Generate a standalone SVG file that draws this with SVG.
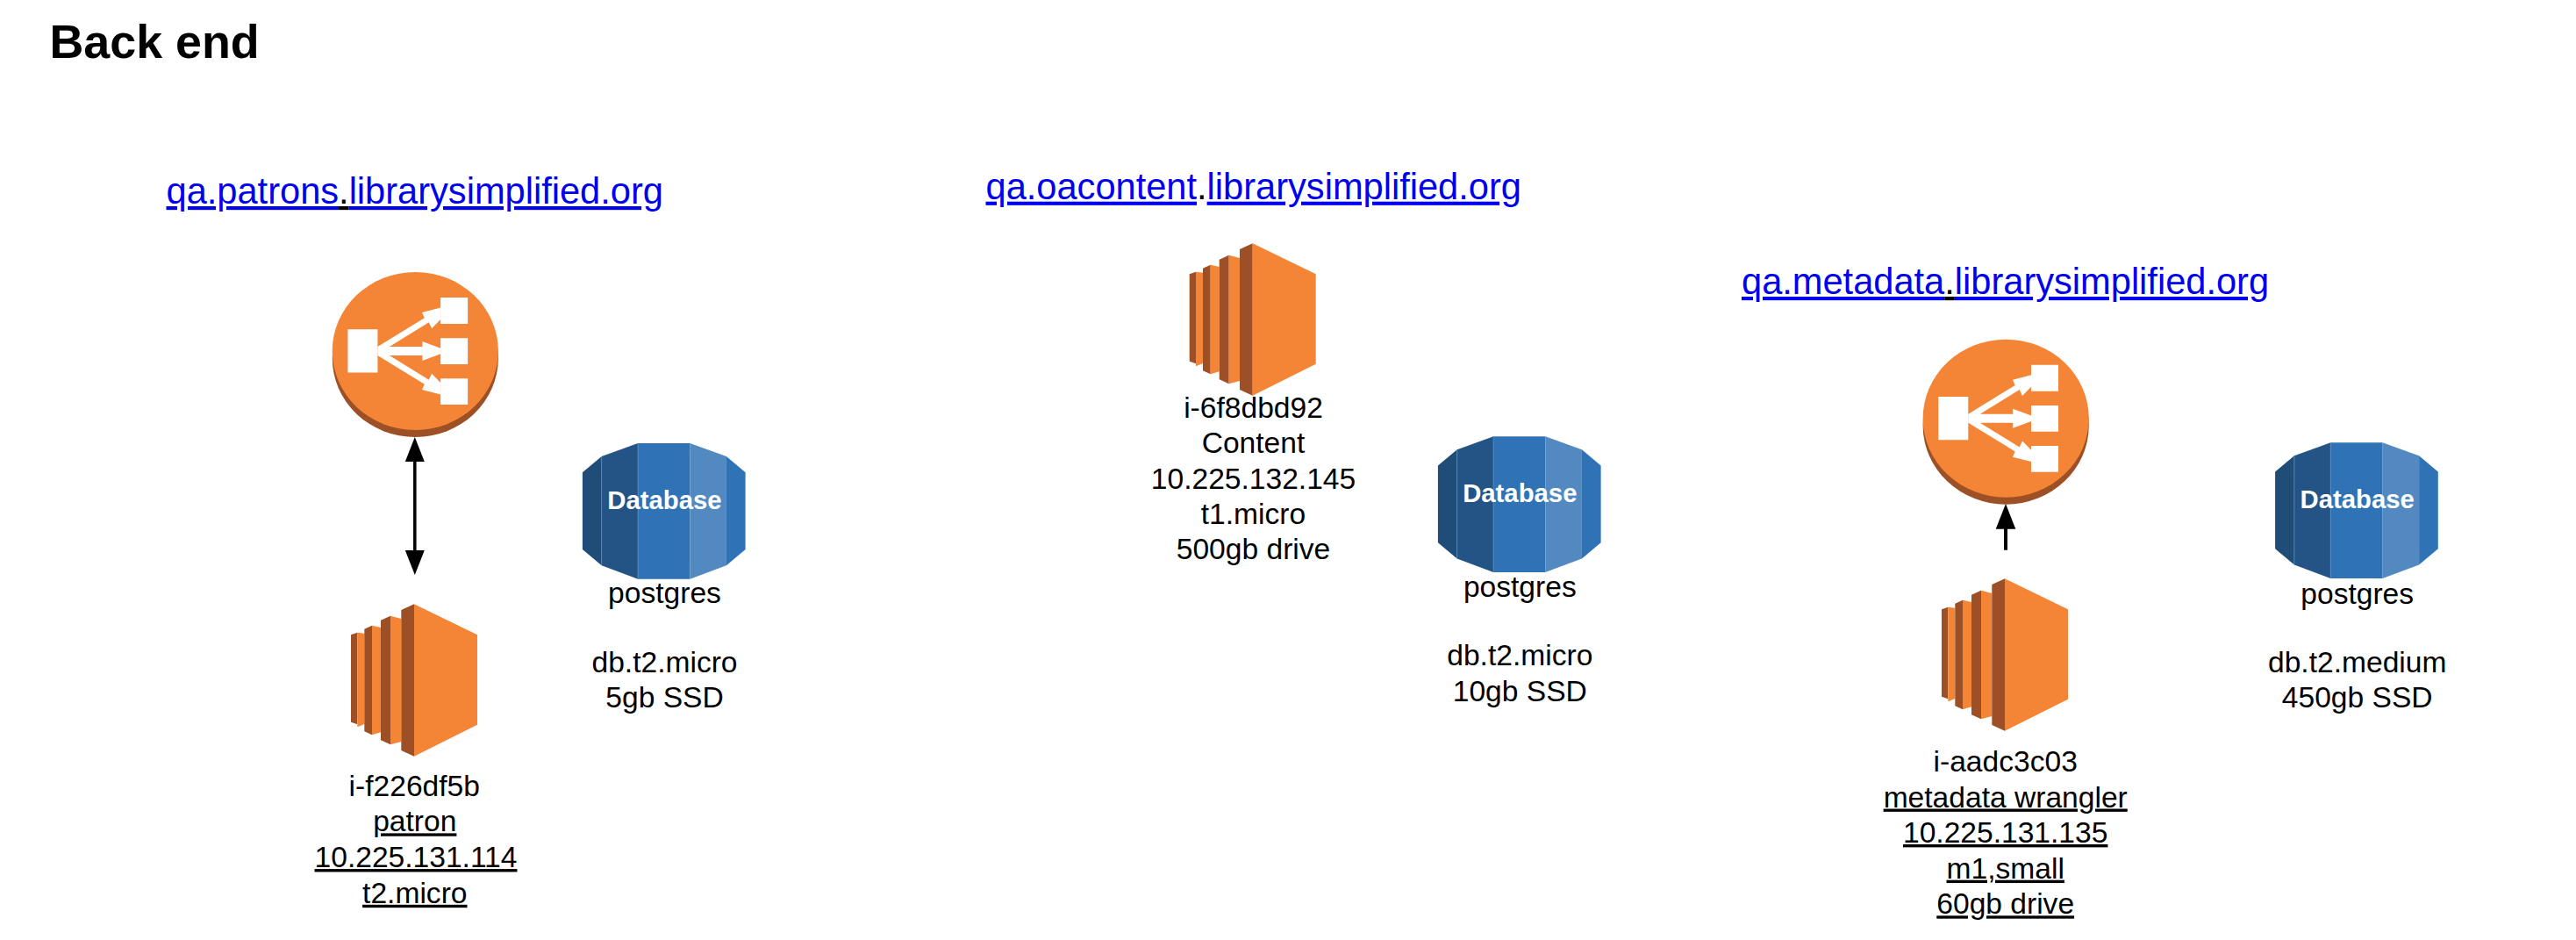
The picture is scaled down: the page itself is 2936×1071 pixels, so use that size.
<svg xmlns="http://www.w3.org/2000/svg" width="2936" height="1071" viewBox="0 0 2936 1071">
<style>
text{font-family:"Liberation Sans",Arial,sans-serif;fill:#000}
.t{font-size:33.6px;text-anchor:middle}
.u{text-decoration:underline}
.title{font-size:53.8px;font-weight:700}
.link{font-size:41.6px}
.blue{fill:#0000ee;text-decoration:underline}
.blk{fill:#000;text-decoration:underline}
.dbl{font-size:29.3px;font-weight:700;fill:#fff;text-anchor:middle}
.o{fill:#f58536}.od{fill:#9d5025}
.conn{stroke:#000;stroke-width:3.5;fill:none}
</style>
<defs>
<g id="lb">
<ellipse class="od" cx="473.3" cy="408" rx="94.6" ry="90"/>
<ellipse class="o" cx="473.3" cy="400" rx="94.6" ry="90"/>
<path fill="#fff" d="M396.4 375.3H430.4V424.6H396.4ZM502.1 339H533.1V369H502.1ZM502.1 385.3H533.1V415H502.1ZM502.1 431.3H533.1V461H502.1Z"/>
<path fill="#fff" d="M430.4 395L483.8 362.3L481.1 356L502.1 350.6V364L492.1 374.3L488.8 367.3L443.8 395H481.4V389L502.1 396.7V403.3L481.4 411V405H443.8L488.8 432.7L492.1 425.7L502.1 436V449.4L481.1 444L483.8 437.7L430.4 405Z"/>
</g>
<g id="ec2">
<path class="od" d="M400 723.3L407.3 720.7V825.3L400 822.7Z"/>
<path class="o" d="M407.3 720.7L415.3 721.7V825L407.3 828.3Z"/>
<path class="od" d="M415.3 716.7L424 712.7V837.3L415.3 833.3Z"/>
<path class="o" d="M424 712.7L434 715V834.3L424 837.3Z"/>
<path class="od" d="M434 706.7L445 701.7V848.3L434 843.3Z"/>
<path class="o" d="M445 701.7L457.3 705V845L445 848.3Z"/>
<path class="od" d="M457.3 695L472 688.3V861.7L457.3 855Z"/>
<path class="o" d="M472 688.3L544 723.3V825.7L472 861.7Z"/>
</g>
<g id="db">
<path fill="#1f4d78" d="M663.9 538.3L685.7 520V644.3L663.9 626Z"/>
<path fill="#245485" d="M685.7 520L727.1 505V659.7L685.7 644.3Z"/>
<path fill="#2f73b6" d="M727.1 505H786.4V659.7H727.1Z"/>
<path fill="#5289c1" d="M786.4 505L827.9 520V644.3L786.4 659.7Z"/>
<path fill="#2f73b6" d="M827.9 520L849.6 538.3V626L827.9 644.3Z"/>
<path stroke="#5289c1" stroke-width=".8" fill="none" d="M685.7 520V644.3M727.1 505V659.7"/>
</g>
</defs>
<rect width="2936" height="1071" fill="#fff"/>
<g id="title"><text class="title" x="56.5" y="65.7">Back end</text></g>

<g id="connectors">
<path class="conn" d="M472.8 522V630"/>
<path d="M472.8 498L483.8 526H461.8Z"/>
<path d="M472.8 655L483.8 627H461.8Z"/>
<path d="M2286 574L2297.3 602.7H2274.7Z"/>
<path d="M2286 600V626.7" stroke="#000" stroke-width="4" fill="none"/>
</g>

<g id="patrons-link"><text class="link" x="189.5" y="232"><tspan class="blue">qa.patrons</tspan><tspan class="blk">.</tspan><tspan class="blue">librarysimplified.org</tspan></text></g>
<g id="patrons-lb"><use href="#lb"/></g>
<g id="patrons-ec2"><use href="#ec2"/>
<text class="t" x="472.3" y="906.7">i-f226df5b</text>
<text class="t u" x="472.8" y="947.4">patron</text>
<text class="t u" x="474" y="988.1">10.225.131.114</text>
<text class="t u" x="472.8" y="1028.8">t2.micro</text>
</g>
<g id="patrons-db"><use href="#db"/>
<text class="dbl" x="757.5" y="580">Database</text>
<text class="t" x="757.5" y="687.3">postgres</text>
<text class="t" x="757.5" y="766">db.t2.micro</text>
<text class="t" x="757.5" y="806.4">5gb SSD</text>
</g>

<g id="oacontent-link"><text class="link" x="1123.5" y="226.7"><tspan class="blue">qa.oacontent</tspan><tspan>.</tspan><tspan class="blue">librarysimplified.org</tspan></text></g>
<g id="oacontent-ec2"><use href="#ec2" transform="translate(955.7 -411)"/>
<text class="t" x="1428.5" y="476">i-6f8dbd92</text>
<text class="t" x="1428.5" y="516">Content</text>
<text class="t" x="1428.5" y="556.7">10.225.132.145</text>
<text class="t" x="1428.5" y="597">t1.micro</text>
<text class="t" x="1428.5" y="637">500gb drive</text>
</g>
<g id="oacontent-db"><use href="#db" transform="translate(975 -7.7)"/>
<text class="dbl" x="1732.3" y="572.3">Database</text>
<text class="t" x="1732.3" y="679.6">postgres</text>
<text class="t" x="1732.3" y="758.4">db.t2.micro</text>
<text class="t" x="1732.3" y="798.7">10gb SSD</text>
</g>

<g id="metadata-link"><text class="link" x="1985" y="335"><tspan class="blue">qa.metadata</tspan><tspan class="blk">.</tspan><tspan class="blue">librarysimplified.org</tspan></text></g>
<g id="metadata-lb"><use href="#lb" transform="translate(1812.9 76.7)"/></g>
<g id="metadata-ec2"><use href="#ec2" transform="translate(1813 -29)"/>
<text class="t" x="2285.7" y="879">i-aadc3c03</text>
<text class="t u" x="2285.7" y="919.5">metadata wrangler</text>
<text class="t u" x="2285.7" y="960">10.225.131.135</text>
<text class="t u" x="2285.7" y="1000.7">m1,small</text>
<text class="t u" x="2285.7" y="1041.3">60gb drive</text>
</g>
<g id="metadata-db"><use href="#db" transform="translate(1929.2 -.7)"/>
<text class="dbl" x="2686.7" y="579.3">Database</text>
<text class="t" x="2686.7" y="688">postgres</text>
<text class="t" x="2686.7" y="765.5">db.t2.medium</text>
<text class="t" x="2686.7" y="806.4">450gb SSD</text>
</g>
</svg>
